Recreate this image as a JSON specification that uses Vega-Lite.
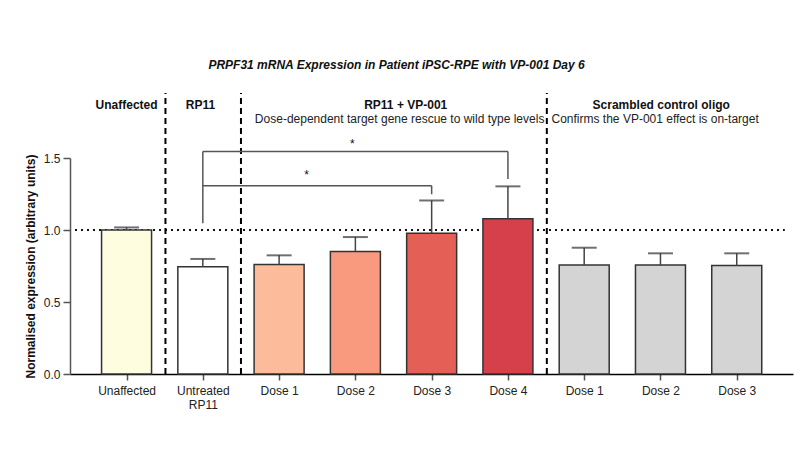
{
  "$schema": "https://vega.github.io/schema/vega-lite/v6.json",
  "width": 723,
  "height": 216,
  "autosize": {"type": "none"},
  "padding": {"left": 70, "top": 158, "right": 1, "bottom": 83},
  "background": "white",
  "config": {
    "view": {"stroke": null},
    "font": "Liberation Sans",
    "text": {"font": "Liberation Sans", "fontSize": 12, "color": "#111"}
  },
  "datasets": {
    "bars": [
      {"x": 0, "label": "Unaffected", "treatment": "Unaffected", "y": 1.0, "upper": 1.018},
      {"x": 1, "label": "Untreated RP11", "treatment": "Untreated RP11", "y": 0.745, "upper": 0.799},
      {"x": 2, "label": "Dose 1", "treatment": "VP-001 Dose 1", "y": 0.76, "upper": 0.824},
      {"x": 3, "label": "Dose 2", "treatment": "VP-001 Dose 2", "y": 0.851, "upper": 0.951},
      {"x": 4, "label": "Dose 3", "treatment": "VP-001 Dose 3", "y": 0.977, "upper": 1.205},
      {"x": 5, "label": "Dose 4", "treatment": "VP-001 Dose 4", "y": 1.078, "upper": 1.303},
      {"x": 6, "label": "Dose 1", "treatment": "Scrambled", "y": 0.757, "upper": 0.877},
      {"x": 7, "label": "Dose 2", "treatment": "Scrambled", "y": 0.757, "upper": 0.838},
      {"x": 8, "label": "Dose 3", "treatment": "Scrambled", "y": 0.753, "upper": 0.838}
    ],
    "refline": [{"x": -0.676, "x2": 8.63, "y": 1.0}],
    "separators": [
      {"x": 0.51, "y": 0, "y2": 1.951},
      {"x": 1.5, "y": 0, "y2": 1.951},
      {"x": 5.51, "y": 0, "y2": 1.951}
    ],
    "brackets": [
      {"x": 1, "x2": 5, "y": 1.546, "y2": 1.546},
      {"x": 1, "x2": 1, "y": 1.047, "y2": 1.546},
      {"x": 5, "x2": 5, "y": 1.354, "y2": 1.546},
      {"x": 1, "x2": 4, "y": 1.308, "y2": 1.308},
      {"x": 4, "x2": 4, "y": 1.248, "y2": 1.308}
    ],
    "stars": [
      {"x": 2.96, "y": 1.598, "text": "*"},
      {"x": 2.36, "y": 1.385, "text": "*"}
    ],
    "headers": [
      {"x": 0, "y": 1.867, "text": "Unaffected"},
      {"x": 0.97, "y": 1.867, "text": "RP11"},
      {"x": 3.66, "y": 1.867, "text": "RP11 + VP-001"},
      {"x": 7.01, "y": 1.867, "text": "Scrambled control oligo"}
    ],
    "subtitles": [
      {"x": 3.58, "y": 1.773, "text": "Dose-dependent target gene rescue to wild type levels"},
      {"x": 6.93, "y": 1.773, "text": "Confirms the VP-001 effect is on-target"}
    ],
    "title": [
      {"x": 3.54, "y": 2.148, "text": "PRPF31 mRNA Expression in Patient iPSC-RPE with VP-001 Day 6"}
    ]
  },
  "encoding": {
    "x": {
      "field": "x",
      "type": "quantitative",
      "scale": {"domain": [-0.676, 8.672], "nice": false, "zero": false},
      "axis": {
        "title": null,
        "values": [0, 1, 2, 3, 4, 5, 6, 7, 8],
        "labelExpr": "['Unaffected', ['Untreated', 'RP11'], 'Dose 1', 'Dose 2', 'Dose 3', 'Dose 4', 'Dose 1', 'Dose 2', 'Dose 3'][datum.value]",
        "grid": false,
        "domainColor": "#000",
        "domainWidth": 1.5,
        "tickColor": "#555",
        "tickWidth": 1.5,
        "tickSize": 6,
        "labelFont": "Liberation Sans",
        "labelFontSize": 12,
        "labelColor": "#222",
        "labelPadding": 5,
        "labelLineHeight": 14,
        "labelOverlap": false,
        "labelFlush": false
      }
    },
    "y": {
      "field": "y",
      "type": "quantitative",
      "scale": {"domain": [0, 1.5], "nice": false},
      "axis": {
        "title": "Normalised expression (arbitrary units)",
        "values": [0, 0.5, 1, 1.5],
        "format": ".1f",
        "grid": false,
        "domainColor": "#555",
        "domainWidth": 1.5,
        "tickColor": "#555",
        "tickWidth": 1.5,
        "tickSize": 7,
        "labelFont": "Liberation Sans",
        "labelFontSize": 12,
        "labelColor": "#222",
        "labelPadding": 3,
        "titleFont": "Liberation Sans",
        "titleFontSize": 12,
        "titleFontWeight": "bold",
        "titleColor": "#111",
        "titlePadding": 6
      }
    }
  },
  "layer": [
    {
      "data": {"name": "refline"},
      "mark": {"type": "rule", "color": "#111", "strokeWidth": 2, "strokeDash": [2, 4]},
      "encoding": {"x2": {"field": "x2"}}
    },
    {
      "data": {"name": "separators"},
      "mark": {"type": "rule", "color": "#000", "strokeWidth": 2, "strokeDash": [6, 4]},
      "encoding": {"y2": {"field": "y2"}}
    },
    {
      "data": {"name": "bars"},
      "mark": {"type": "bar", "width": 50, "stroke": "#333", "strokeWidth": 1.5},
      "encoding": {
        "color": {
          "field": "treatment",
          "type": "nominal",
          "scale": {
            "domain": ["Unaffected", "Untreated RP11", "VP-001 Dose 1", "VP-001 Dose 2", "VP-001 Dose 3", "VP-001 Dose 4", "Scrambled"],
            "range": ["#fefde0", "#ffffff", "#fcbb9a", "#f99a7e", "#e45f56", "#d6404a", "#d4d4d4"]
          },
          "legend": null
        }
      }
    },
    {
      "data": {"name": "bars"},
      "mark": {"type": "rule", "color": "#444", "strokeWidth": 1.5},
      "encoding": {"y2": {"field": "upper"}}
    },
    {
      "data": {"name": "bars"},
      "mark": {"type": "tick", "orient": "horizontal", "size": 25, "thickness": 2, "color": "#333"},
      "encoding": {"y": {"field": "upper", "type": "quantitative"}}
    },
    {
      "data": {"name": "brackets"},
      "mark": {"type": "rule", "color": "#555", "strokeWidth": 1.5},
      "encoding": {"x2": {"field": "x2"}, "y2": {"field": "y2"}}
    },
    {
      "data": {"name": "stars"},
      "mark": {"type": "text", "fontSize": 12, "color": "#111"},
      "encoding": {"text": {"field": "text"}}
    },
    {
      "data": {"name": "headers"},
      "mark": {"type": "text", "fontSize": 12, "fontWeight": "bold", "color": "#111"},
      "encoding": {"text": {"field": "text"}}
    },
    {
      "data": {"name": "subtitles"},
      "mark": {"type": "text", "fontSize": 12, "color": "#222"},
      "encoding": {"text": {"field": "text"}}
    },
    {
      "data": {"name": "title"},
      "mark": {"type": "text", "fontSize": 12, "fontWeight": "bold", "fontStyle": "italic", "color": "#111"},
      "encoding": {"text": {"field": "text"}}
    }
  ]
}
